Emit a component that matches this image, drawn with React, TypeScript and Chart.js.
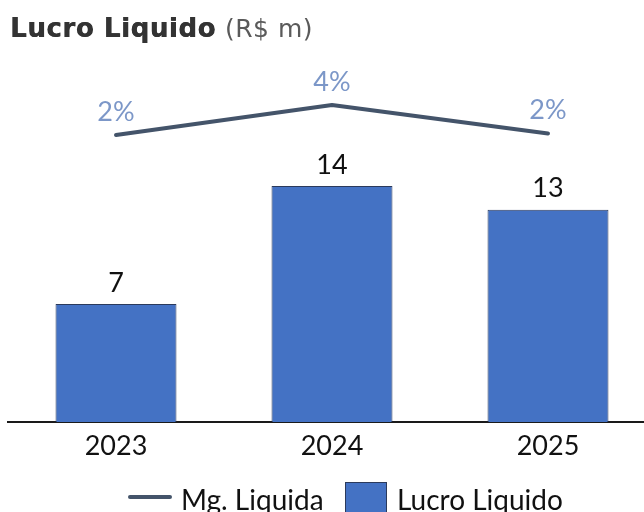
import React, { useEffect, useRef } from 'react';
import { Chart, registerables } from 'chart.js';

Chart.register(...registerables);

const categories = ['2023', '2024', '2025'];
const lucroLiquido = [7, 14, 12.6];
const mgLiquida = [2.0, 4.0, 2.1];
const titleBold = 'Lucro Liquido';
const titleUnit = '(R$ m)';
const seriesBar = 'Lucro Liquido';
const seriesLine = 'Mg. Liquida';

const BAR_COLOR = '#4472C4';
const BAR_BORDER = '#2B3A5C';
const LINE_COLOR = '#44546A';
const PCT_COLOR = '#7C97C8';
const TEXT_COLOR = '#111111';

export default function App() {
  const ref = useRef<HTMLCanvasElement>(null);

  useEffect(() => {
    const canvas = ref.current;
    if (!canvas) return;

    const decorPlugin = {
      id: 'decor',
      afterDatasetsDraw(chart: any) {
        const ctx = chart.ctx;
        ctx.save();
        ctx.textAlign = 'center';
        ctx.textBaseline = 'middle';
        ctx.font = '27px Lato';
        ctx.fillStyle = TEXT_COLOR;
        const barMeta = chart.getDatasetMeta(0);
        barMeta.data.forEach((el: any, i: number) => {
          ctx.fillText(String(Math.round(lucroLiquido[i])), el.x, el.y - 21);
        });
        const lineMeta = chart.getDatasetMeta(1);
        ctx.fillStyle = PCT_COLOR;
        lineMeta.data.forEach((el: any, i: number) => {
          ctx.fillText(Math.round(mgLiquida[i]) + '%', el.x, el.y - 23);
        });
        ctx.restore();
      },
      afterDraw(chart: any) {
        const ctx = chart.ctx;
        ctx.save();
        // Title
        ctx.textAlign = 'left';
        ctx.textBaseline = 'alphabetic';
        ctx.font = 'bold 26px "DejaVu Sans"';
        ctx.fillStyle = '#333333';
        const w0 = ctx.measureText(titleBold).width;
        const ls = Math.max(-1, (206 - w0) / titleBold.length);
        (ctx as any).letterSpacing = ls + 'px';
        ctx.fillText(titleBold, 10, 37);
        ctx.fillText(titleBold, 10.5, 37);
        const w = ctx.measureText(titleBold).width;
        (ctx as any).letterSpacing = '0.5px';
        ctx.font = '25px "DejaVu Sans"';
        ctx.fillStyle = '#5a5a5a';
        ctx.fillText(titleUnit, 10 + w + 9, 37);
        (ctx as any).letterSpacing = '0px';

        // Legend
        const lineDs = chart.data.datasets[1];
        const barDs = chart.data.datasets[0];
        ctx.strokeStyle = lineDs.borderColor;
        ctx.lineWidth = 4;
        ctx.lineCap = 'round';
        ctx.beginPath();
        ctx.moveTo(130, 497);
        ctx.lineTo(170, 497);
        ctx.stroke();
        ctx.font = '28px Lato';
        ctx.fillStyle = TEXT_COLOR;
        ctx.fillText(lineDs.label, 181, 509.5);
        ctx.fillStyle = barDs.backgroundColor;
        ctx.fillRect(345, 482, 42, 42);
        ctx.strokeStyle = barDs.borderColor;
        ctx.lineWidth = 1;
        ctx.strokeRect(345.5, 482.5, 41, 41);
        ctx.fillStyle = TEXT_COLOR;
        ctx.fillText(barDs.label, 397, 509.5);
        ctx.restore();
      },
    };

    const chart = new Chart(canvas, {
      type: 'bar',
      data: {
        labels: categories,
        datasets: [
          {
            type: 'bar',
            label: seriesBar,
            data: lucroLiquido,
            yAxisID: 'y',
            backgroundColor: BAR_COLOR,
            borderColor: BAR_BORDER,
            borderWidth: 1,
            categoryPercentage: 1,
            barPercentage: 0.56,
            order: 2,
          } as any,
          {
            type: 'line',
            label: seriesLine,
            data: mgLiquida,
            yAxisID: 'y2',
            borderColor: LINE_COLOR,
            backgroundColor: LINE_COLOR,
            borderWidth: 4,
            pointRadius: 0,
            tension: 0,
            borderCapStyle: 'round',
            borderJoinStyle: 'round',
            order: 1,
          } as any,
        ],
      },
      options: {
        responsive: true,
        maintainAspectRatio: false,
        animation: false,
        layout: { padding: { left: 8, right: 4, top: 85, bottom: 30 } },
        plugins: {
          legend: { display: false },
          tooltip: { enabled: false },
        },
        scales: {
          x: {
            grid: { display: false, drawTicks: false },
            border: { display: true, color: '#1a1a1a', width: 2 },
            ticks: { color: TEXT_COLOR, font: { family: 'Lato', size: 27 }, padding: 8 },
            afterFit: (s: any) => {
              s.height = 60;
            },
          },
          y: { display: false, min: 0, max: 20 },
          y2: { display: false, min: -17.13, max: 5.33 },
        },
      },
      plugins: [decorPlugin],
    });

    return () => chart.destroy();
  }, []);

  return (
    <div
      style={{
        position: 'fixed',
        left: 0,
        top: 0,
        width: 644,
        height: 512,
        overflow: 'hidden',
        background: '#ffffff',
      }}
    >
      <div style={{ position: 'absolute', left: 0, top: 0, width: 660, height: 512 }}>
        <canvas ref={ref} />
      </div>
    </div>
  );
}
